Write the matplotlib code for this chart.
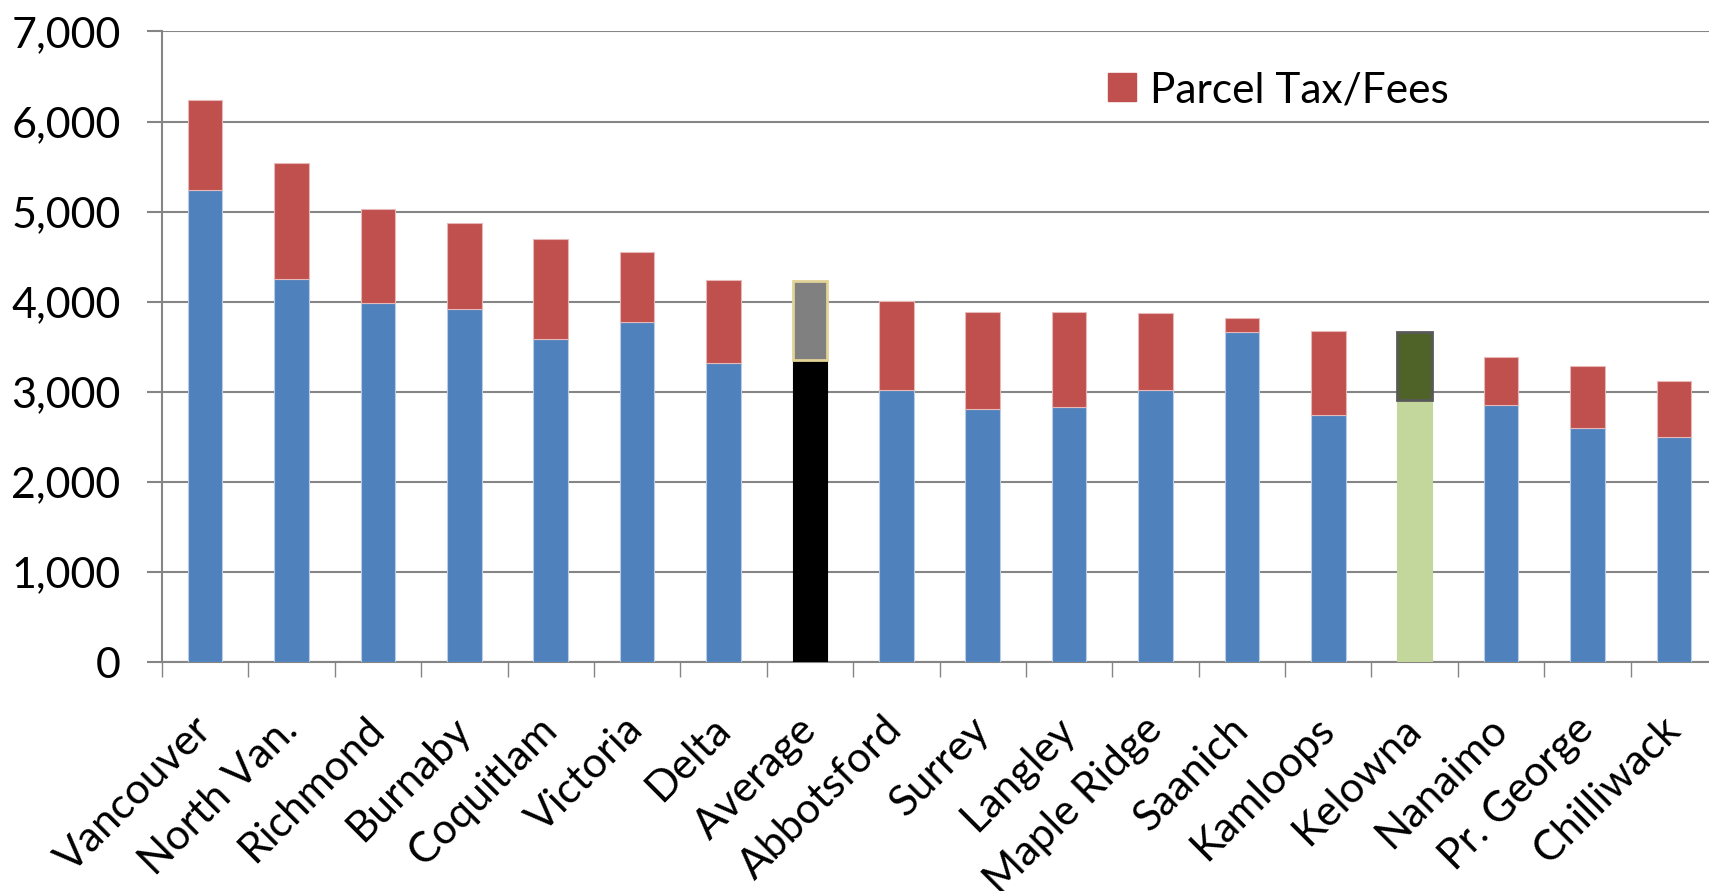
import numpy as np
import matplotlib.pyplot as plt
from matplotlib.lines import Line2D
from matplotlib.ticker import FuncFormatter, FixedLocator

plt.rcParams['font.family'] = ['Lato', 'DejaVu Sans']

# cities, sorted by total bill
cities = ['Vancouver', 'North Van.', 'Richmond', 'Burnaby', 'Coquitlam', 'Victoria',
          'Delta', 'Average', 'Abbotsford', 'Surrey', 'Langley', 'Maple Ridge',
          'Saanich', 'Kamloops', 'Kelowna', 'Nanaimo', 'Pr. George', 'Chilliwack']

# property tax part (lower segment)
prop_tax = [5240, 4250, 3990, 3920, 3590, 3780, 3320, 3350, 3020, 2810, 2830, 3020,
            3670, 2740, 2910, 2860, 2600, 2500]
# total height of each bar (property tax + parcel tax/fees)
totals = [6240, 5540, 5030, 4870, 4700, 4550, 4240, 4230, 4010, 3890, 3890, 3880,
          3820, 3680, 3660, 3390, 3290, 3120]
parcel = [t - p for t, p in zip(totals, prop_tax)]

yticks = [0, 1000, 2000, 3000, 4000, 5000, 6000, 7000]

blue = '#4F81BD'
red = '#C0504D'
low_colors = [blue] * len(cities)
top_colors = [red] * len(cities)
top_edges = ['#E6B9B8'] * len(cities)
low_edges = ['#B9CDE5'] * len(cities)
# highlighted bars
low_colors[cities.index('Average')] = 'black'
top_colors[cities.index('Average')] = '#808080'
top_edges[cities.index('Average')] = '#E2D396'
low_edges[cities.index('Average')] = 'black'
low_colors[cities.index('Kelowna')] = '#C3D69B'
low_edges[cities.index('Kelowna')] = '#C3D69B'
top_colors[cities.index('Kelowna')] = '#4F6228'
top_edges[cities.index('Kelowna')] = '#595959'

fig = plt.figure(figsize=(17.09, 8.91), dpi=100)
ax = fig.add_axes([0.0948, 0.2567, 0.9099, 0.708])

x = np.arange(len(cities))
ax.bar(x, prop_tax, width=0.4, color=low_colors, edgecolor=low_edges, linewidth=0.8, zorder=3)
tops = ax.bar(x, parcel, bottom=prop_tax, width=0.4, color=top_colors,
              edgecolor=top_edges, linewidth=0.8, zorder=3)
tops[cities.index('Average')].set_linewidth(2)
tops[cities.index('Kelowna')].set_linewidth(2)

ax.set_xlim(-0.5, len(cities) - 0.5)
ax.set_ylim(0, 7000)
ax.set_yticks(yticks)
ax.yaxis.set_major_formatter(FuncFormatter(lambda v, p: f'{int(v):,}'))
ax.yaxis.grid(True, color='#858585', linewidth=1.5, zorder=0)

ax.set_xticks(x)
ax.set_xticklabels(cities, rotation=45, ha='right', va='center', rotation_mode='anchor')
ax.xaxis.set_minor_locator(FixedLocator(np.arange(-0.5, len(cities), 1.0)))
ax.tick_params(axis='x', which='major', length=0, pad=44, labelsize=30.5)
ax.tick_params(axis='x', which='minor', length=10.5, color='#858585', width=1)
ax.tick_params(axis='y', length=10.8, color='#858585', width=1.5, pad=19, labelsize=31)

for s in ['top', 'right']:
    ax.spines[s].set_visible(False)
for s in ['left', 'bottom']:
    ax.spines[s].set_color('#858585')
    ax.spines[s].set_linewidth(1.5)

handle = Line2D([], [], marker='s', linestyle='none', markersize=19.5,
                markerfacecolor=red, markeredgecolor=red)
ax.legend([handle], ['Parcel Tax/Fees'], loc='upper left', bbox_to_anchor=(0.6466, 0.92),
          bbox_transform=fig.transFigure, frameon=False, fontsize=30.5,
          handlelength=0.8, handletextpad=0.25, borderaxespad=0, borderpad=0)

fig.savefig('out.png', dpi=100)
